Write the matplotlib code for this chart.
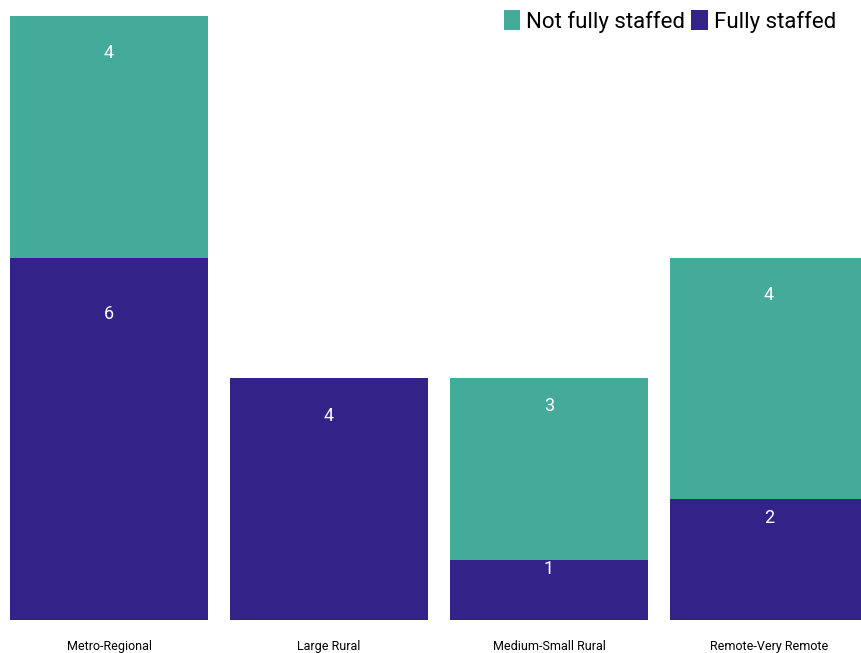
import matplotlib
matplotlib.use("Agg")
import matplotlib.pyplot as plt
import numpy as np

categories = ["Metro-Regional", "Large Rural", "Medium-Small Rural", "Remote-Very Remote"]
fully_staffed = [6, 4, 1, 2]
not_fully_staffed = [4, 0, 3, 4]

c_fully = "#332288"
c_not = "#44AA99"

plt.rcParams['font.family'] = ['Roboto', 'DejaVu Sans']

fig = plt.figure(figsize=(8.61, 6.53), dpi=100)
ax = fig.add_axes([10/861, 33/653, 851/861, 604/653])

x = np.arange(len(categories))
w = 0.9
ax.bar(x, fully_staffed, width=w, color=c_fully, label="Fully staffed")
ax.bar(x, not_fully_staffed, width=w, bottom=fully_staffed, color=c_not, label="Not fully staffed")

for i in range(len(categories)):
    f = fully_staffed[i]
    n = not_fully_staffed[i]
    if f > 0:
        ax.text(x[i], 0.845 * f, str(f), ha="center", va="center", color="white", fontsize=13)
    if n > 0:
        ax.text(x[i], f + 0.845 * n, str(n), ha="center", va="center", color="white", fontsize=13)

ax.set_xlim(-0.45, (861 - 109) / 220)
ax.set_ylim(0, 10)
ax.set_xticks(x)
ax.set_xticklabels(categories, fontsize=9)
ax.tick_params(axis="x", length=0, pad=14.5)
ax.set_yticks([])
for s in ax.spines.values():
    s.set_visible(False)

handles, labels = ax.get_legend_handles_labels()
leg = ax.legend(handles[::-1], labels[::-1], loc="upper right", ncol=2, frameon=False,
                fontsize=16, handlelength=0.75, handleheight=1.0, handletextpad=0.25,
                columnspacing=0.3, bbox_to_anchor=(0.981, 1.024), borderaxespad=0)

fig.savefig("out.png", dpi=100)
